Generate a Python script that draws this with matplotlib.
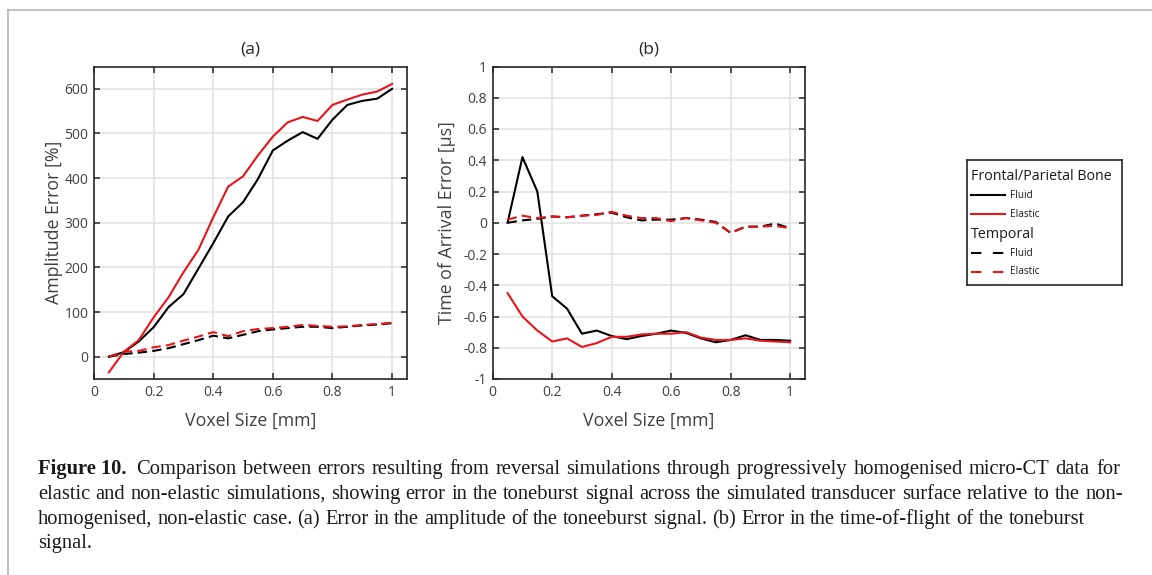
import matplotlib
matplotlib.use("Agg")
import matplotlib.pyplot as plt
from matplotlib.lines import Line2D

# voxel sizes [mm]
voxel = [0.05, 0.10, 0.15, 0.20, 0.25, 0.30, 0.35, 0.40, 0.45, 0.50,
         0.55, 0.60, 0.65, 0.70, 0.75, 0.80, 0.85, 0.90, 0.95, 1.00]

# (a) amplitude error [%]
amp_fp_fluid = [0, 10, 34, 66, 111, 140, 197, 254, 314, 346,
                398, 462, 484, 503, 488, 531, 564, 573, 578, 600]
amp_fp_elastic = [-35, 11, 37, 88, 133, 189, 239, 312, 381, 404,
                  451, 493, 525, 537, 528, 564, 576, 587, 594, 611]
amp_tmp_fluid = [0, 6, 9, 13, 19, 28, 37, 47, 41, 49,
                 57, 61, 64, 67, 67, 64, 67, 70, 72, 75]
amp_tmp_elastic = [0, 11, 13, 21, 26, 36, 45, 55, 46, 57,
                   62, 64, 67, 71, 69, 67, 68, 71, 73, 76]

# (b) time of arrival error [us]
toa_fp_fluid = [0.0, 0.42, 0.20, -0.47, -0.55, -0.71, -0.69, -0.725, -0.745, -0.725,
                -0.71, -0.69, -0.705, -0.74, -0.765, -0.75, -0.72, -0.75, -0.75, -0.755]
toa_fp_elastic = [-0.45, -0.60, -0.69, -0.76, -0.74, -0.795, -0.77, -0.73, -0.73, -0.715,
                  -0.71, -0.71, -0.70, -0.735, -0.75, -0.75, -0.74, -0.755, -0.76, -0.765]
toa_tmp_fluid = [0.0, 0.015, 0.025, 0.04, 0.035, 0.045, 0.055, 0.065, 0.035, 0.015,
                 0.02, 0.02, 0.03, 0.02, 0.005, -0.065, -0.025, -0.025, -0.005, -0.035]
toa_tmp_elastic = [0.02, 0.045, 0.03, 0.04, 0.035, 0.045, 0.05, 0.07, 0.045, 0.03,
                   0.03, 0.01, 0.03, 0.015, 0.0, -0.065, -0.025, -0.025, -0.02, -0.035]

plt.rcParams['font.family'] = ['Open Sans', 'DejaVu Sans']

W, H = 1152, 575
RED = '#e8141b'
DASH = (0, (4.5, 2.5))
TXT = '#404040'
LAB = 12.8

fig = plt.figure(figsize=(W / 100, H / 100), dpi=100)

# thin grey frame (top and left edges of the figure panel)
fig.add_artist(Line2D([8 / W, 1], [1 - 10 / H, 1 - 10 / H], color='#b5b5b5', lw=1.2))
fig.add_artist(Line2D([8 / W, 8 / W], [0, 1 - 10 / H], color='#b5b5b5', lw=1.2))


def style(ax):
    ax.set_xlim(0, 1.05)
    ax.set_xticks([0, 0.2, 0.4, 0.6, 0.8, 1])
    ax.set_xticklabels(['0', '0.2', '0.4', '0.6', '0.8', '1'])
    ax.grid(True, color='#e3e3e3', lw=1.2)
    ax.set_axisbelow(True)
    ax.tick_params(direction='in', top=True, right=True, length=4, width=1.1,
                   color='#262626', labelsize=10, labelcolor=TXT, pad=4)
    for s in ax.spines.values():
        s.set_color('#262626')
        s.set_linewidth(1.2)
    ax.set_xlabel('Voxel Size [mm]', fontsize=LAB, color=TXT)
    ax.xaxis.set_label_coords(0.5, -0.105)


ax1 = fig.add_axes([94 / W, 1 - 379 / H, 313 / W, 312.5 / H])
ax1.plot(voxel, amp_fp_fluid, color='black', lw=1.5)
ax1.plot(voxel, amp_fp_elastic, color=RED, lw=1.5)
ax1.plot(voxel, amp_tmp_fluid, color='black', lw=1.5, ls=DASH)
ax1.plot(voxel, amp_tmp_elastic, color=RED, lw=1.5, ls=DASH)
style(ax1)
ax1.set_ylim(-50, 650)
ax1.set_yticks([0, 100, 200, 300, 400, 500, 600])
ax1.set_ylabel('Amplitude Error [%]', fontsize=LAB, color=TXT)
ax1.yaxis.set_label_coords(-0.098, 0.5)
ax1.set_title('(a)', fontsize=12.5, color='#262626', pad=9)

ax2 = fig.add_axes([492.7 / W, 1 - 379 / H, 312.3 / W, 312.5 / H])
ax2.plot(voxel, toa_fp_fluid, color='black', lw=1.5)
ax2.plot(voxel, toa_fp_elastic, color=RED, lw=1.5)
ax2.plot(voxel, toa_tmp_fluid, color='black', lw=1.5, ls=DASH)
ax2.plot(voxel, toa_tmp_elastic, color=RED, lw=1.5, ls=DASH)
style(ax2)
ax2.set_ylim(-1, 1)
ax2.set_yticks([-1, -0.8, -0.6, -0.4, -0.2, 0, 0.2, 0.4, 0.6, 0.8, 1])
ax2.set_yticklabels(['-1', '-0.8', '-0.6', '-0.4', '-0.2', '0', '0.2', '0.4', '0.6', '0.8', '1'])
ax2.set_ylabel('Time of Arrival Error [\u00b5s]', fontsize=LAB, color=TXT)
ax2.yaxis.set_label_coords(-0.118, 0.5)
ax2.set_title('(b)', fontsize=12.5, color='#262626', pad=9)

# legend drawn by hand (MATLAB style with group headers), pixel units
lg = fig.add_axes([967 / W, 1 - 285 / H, 155 / W, 125 / H])
lg.set_xlim(0, 155)
lg.set_ylim(125, 0)
lg.set_xticks([])
lg.set_yticks([])
for s in lg.spines.values():
    s.set_color('#262626')
    s.set_linewidth(1.2)
entries = [
    ('Frontal/Parietal Bone', None, None, 16),
    ('Fluid', 'black', '-', 35),
    ('Elastic', RED, '-', 54),
    ('Temporal', None, None, 75),
    ('Fluid', 'black', (0, (5, 5.5)), 93),
    ('Elastic', RED, (0, (5, 5.5)), 112),
]
for label, col, ls, y in entries:
    if col is None:
        lg.text(4, y, label, fontsize=10.3, color='#1a1a1a', va='center', ha='left')
    else:
        lg.plot([4, 38], [y, y], color=col, lw=1.5, ls=ls)
        lg.text(43, y, label, fontsize=7.2, color='#1a1a1a', va='center', ha='left')

# caption, justified word by word on a common baseline
cap_font = ['Liberation Serif', 'DejaVu Serif']
cap_size = 14.8
cap_lines = [
    'Comparison between errors resulting from reversal simulations through progressively homogenised micro-CT data for',
    'elastic and non-elastic simulations, showing error in the toneburst signal across the simulated transducer surface relative to the non-',
    'homogenised, non-elastic case. (a) Error in the amplitude of the toneeburst signal. (b) Error in the time-of-flight of the toneburst',
    'signal.',
]
cap_base = [474, 499, 524, 548]
cap_right = [1120, 1123, 1085, None]
renderer = fig.canvas.get_renderer()


def put_line(text, x_left, x_right, y):
    words = text.split(' ')
    arts = [fig.text(0, 1 - y / H, w, family=cap_font, fontsize=cap_size,
                     va='baseline', ha='left', color='#1a1a1a') for w in words]
    widths = [a.get_window_extent(renderer).width for a in arts]
    space = cap_size * 1.389 * 0.25
    if x_right is not None and len(words) > 1:
        space = (x_right - x_left - sum(widths)) / (len(words) - 1)
    x = x_left
    for a, w in zip(arts, widths):
        a.set_x(x / W)
        x += w + space


bold = fig.text(38 / W, 1 - cap_base[0] / H, 'Figure 10.', family=cap_font, fontsize=cap_size,
                fontweight='bold', va='baseline', ha='left', color='#1a1a1a')
bx = bold.get_window_extent(renderer).x1
put_line(cap_lines[0], bx + 10, cap_right[0], cap_base[0])
for line, y, xr in zip(cap_lines[1:], cap_base[1:], cap_right[1:]):
    put_line(line, 38, xr, y)

fig.savefig('out.png', dpi=100)
